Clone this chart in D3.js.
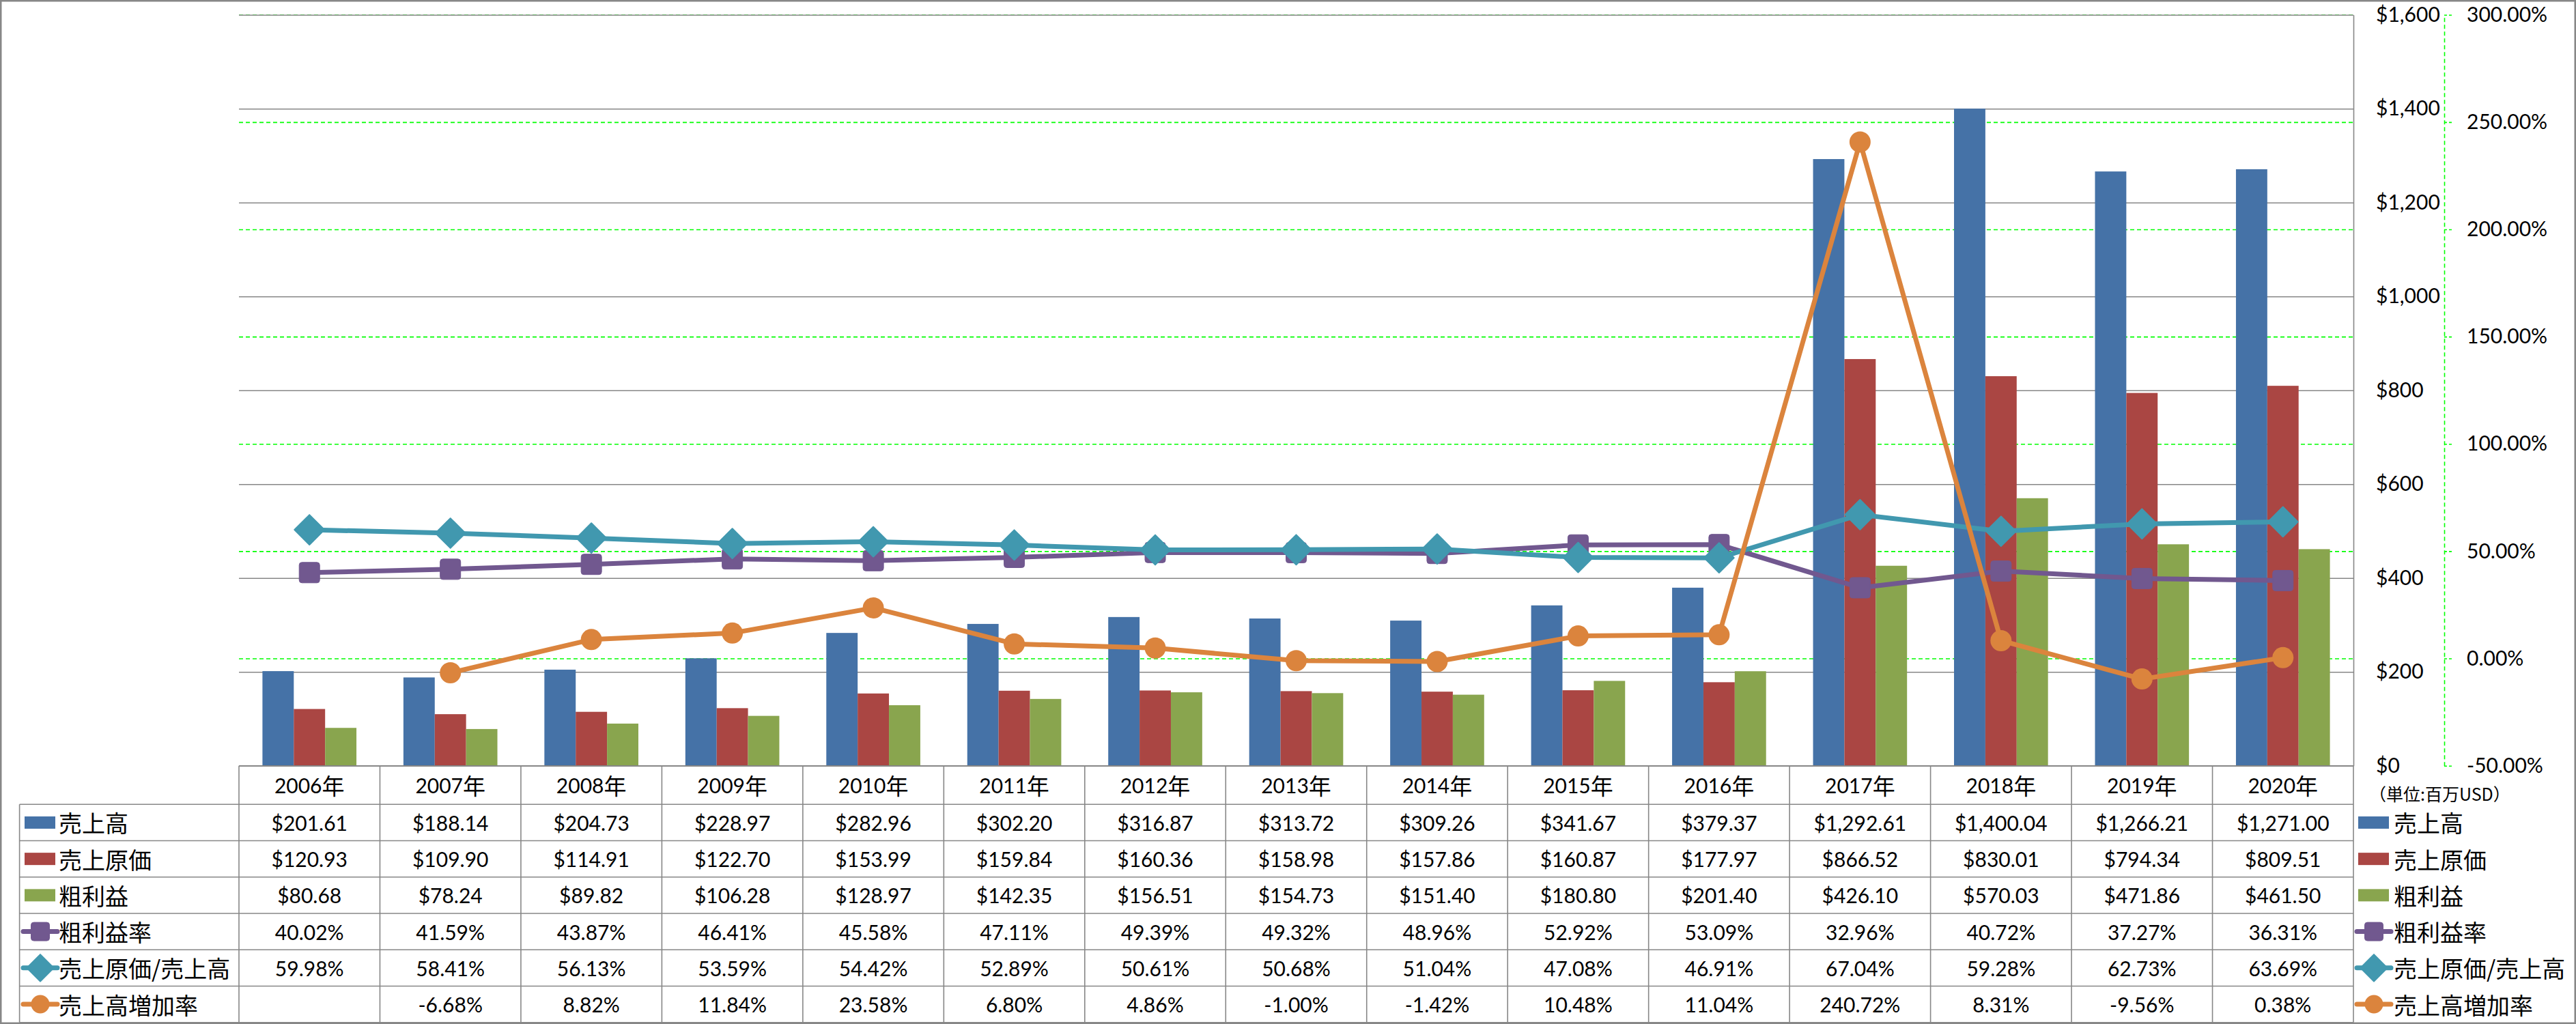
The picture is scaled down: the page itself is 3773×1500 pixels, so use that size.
<!DOCTYPE html>
<html>
<head>
<meta charset="utf-8">
<script src="https://cdn.jsdelivr.net/npm/d3@7"></script>
<style>
  html, body { margin: 0; padding: 0; background: #fff; }
  svg { display: block; }
  text { font-family: Lato, "Noto Sans CJK JP", sans-serif; fill: #000; }
  .jp { font-family: "Noto Sans CJK JP", sans-serif; }
</style>
</head>
<body>
<script>
// ---------------- DATA ----------------
const years = ["2006年","2007年","2008年","2009年","2010年","2011年","2012年","2013年","2014年","2015年","2016年","2017年","2018年","2019年","2020年"];
const sales = [201.61,188.14,204.73,228.97,282.96,302.20,316.87,313.72,309.26,341.67,379.37,1292.61,1400.04,1266.21,1271.00];
const costOfSales = [120.93,109.90,114.91,122.70,153.99,159.84,160.36,158.98,157.86,160.87,177.97,866.52,830.01,794.34,809.51];
const grossProfit = [80.68,78.24,89.82,106.28,128.97,142.35,156.51,154.73,151.40,180.80,201.40,426.10,570.03,471.86,461.50];
const grossMargin = [40.02,41.59,43.87,46.41,45.58,47.11,49.39,49.32,48.96,52.92,53.09,32.96,40.72,37.27,36.31];
const costRatio = [59.98,58.41,56.13,53.59,54.42,52.89,50.61,50.68,51.04,47.08,46.91,67.04,59.28,62.73,63.69];
const salesGrowth = [null,-6.68,8.82,11.84,23.58,6.80,4.86,-1.00,-1.42,10.48,11.04,240.72,8.31,-9.56,0.38];
const seriesNames = ["売上高","売上原価","粗利益","粗利益率","売上原価/売上高","売上高増加率"];
const leftTicks = [0,200,400,600,800,1000,1200,1400,1600];
const rightTicks = [-50,0,50,100,150,200,250,300];
const unitLabel = "（単位:百万USD）";

// ---------------- LAYOUT / STYLE ----------------
const W = 3773, H = 1500;
const plotL = 350, plotR = 3447, plotT = 21.7, plotB = 1121.7;
const headerH = 56.6, rowH = 53.23;
const tableL = 28.6;
const colors = ["#4572A7","#AA4643","#89A54E","#71588F","#4198AF","#DB843D"];
const gridGray = "#878787";
const green = "#00FF00";

const loc = d3.formatLocale({decimal: ".", thousands: ",", grouping: [3], currency: ["$", ""], minus: "-"});
const fmtMoney = loc.format("$,.2f");
const fmtPct = v => v == null ? "" : loc.format(".2f")(v) + "%";
const fmtAxisL = loc.format("$,.0f");
const fmtAxisR = v => loc.format(".2f")(v) + "%";

const svg = d3.select("body").append("svg").attr("width", W).attr("height", H);

const x = d3.scaleBand().domain(years).range([plotL, plotR]).paddingInner(0).paddingOuter(0);
const bw = x.bandwidth();
const barSeries = [sales, costOfSales, grossProfit];
const xBar = d3.scaleBand().domain([0,1,2]).range([bw/6, bw*5/6]);
const yL = d3.scaleLinear().domain([0,1600]).range([plotB, plotT]);
const yR = d3.scaleLinear().domain([-50,300]).range([plotB, plotT]);

// gridlines (green dashed for % axis, gray for $ axis)
const gG = svg.append("g").attr("transform", `translate(${plotL},0)`)
  .call(d3.axisLeft(yR).tickValues(rightTicks).tickSize(-(plotR - plotL)).tickFormat(""));
gG.select(".domain").remove();
gG.selectAll("line").attr("stroke", green).attr("stroke-width", 1.6).attr("stroke-dasharray", "6,4");

const gL = svg.append("g").attr("transform", `translate(${plotL},0)`)
  .call(d3.axisLeft(yL).tickValues(leftTicks).tickSize(-(plotR - plotL)).tickFormat(""));
gL.select(".domain").remove();
gL.selectAll("line").attr("stroke", gridGray).attr("stroke-width", 1.6);

// bars
barSeries.forEach((vals, si) => {
  svg.append("g").selectAll("rect").data(vals).join("rect")
    .attr("x", (d, i) => x(years[i]) + xBar(si))
    .attr("width", xBar.bandwidth())
    .attr("y", d => yL(d))
    .attr("height", d => yL(0) - yL(d))
    .attr("fill", colors[si]);
});

// axes
const axL = svg.append("g").attr("transform", `translate(${plotR},0)`)
  .call(d3.axisRight(yL).tickValues(leftTicks).tickSizeInner(0).tickSizeOuter(0).tickPadding(33).tickFormat(fmtAxisL));
axL.select(".domain").attr("stroke", gridGray).attr("stroke-width", 1.6);
axL.selectAll("text").attr("font-size", 30).attr("font-family", "Lato, sans-serif").attr("fill", "#000");

const axR = svg.append("g").attr("transform", `translate(3580,0)`)
  .call(d3.axisRight(yR).tickValues(rightTicks).tickSizeInner(12).tickSizeOuter(0).tickPadding(21).tickFormat(fmtAxisR));
axR.select(".domain").attr("stroke", green).attr("stroke-width", 1.6).attr("stroke-dasharray", "6,4");
axR.selectAll("line").attr("stroke", green).attr("stroke-width", 1.6).attr("stroke-dasharray", "4,3");
axR.selectAll("text").attr("font-size", 30).attr("font-family", "Lato, sans-serif")
  .attr("fill", d => d < 0 ? "#FF0000" : "#000");

// line series
const lineSeries = [
  {vals: grossMargin, color: colors[3], marker: "square"},
  {vals: costRatio, color: colors[4], marker: "diamond"},
  {vals: salesGrowth, color: colors[5], marker: "circle"}
];
function drawMarker(g, type, cx, cy, color, s) {
  if (type === "square") {
    g.append("rect").attr("x", cx - s/2).attr("y", cy - s/2).attr("width", s).attr("height", s)
      .attr("rx", 4).attr("fill", color).attr("stroke", color).attr("stroke-width", 1);
  } else if (type === "diamond") {
    const r = s * 0.73;
    g.append("path").attr("d", `M${cx},${cy - r}L${cx + r},${cy}L${cx},${cy + r}L${cx - r},${cy}Z`)
      .attr("fill", color).attr("stroke", color).attr("stroke-width", 2).attr("stroke-linejoin", "round");
  } else {
    g.append("circle").attr("cx", cx).attr("cy", cy).attr("r", s/2).attr("fill", color);
  }
}
lineSeries.forEach(ls => {
  const pts = ls.vals.map((v, i) => ({v, i})).filter(p => p.v != null);
  const line = d3.line().x(p => x(years[p.i]) + bw/2).y(p => yR(p.v));
  const g = svg.append("g");
  g.append("path").attr("d", line(pts)).attr("fill", "none").attr("stroke", ls.color)
    .attr("stroke-width", 7).attr("stroke-linejoin", "round").attr("stroke-linecap", "round");
  pts.forEach(p => drawMarker(g, ls.marker, x(years[p.i]) + bw/2, yR(p.v), ls.color, ls.marker === "circle" ? 31 : 30));
});

// data table
const tableBottom = plotB + headerH + rowH * 6;
const tg = svg.append("g");
tg.selectAll("text.hdr").data(years).join("text").attr("class", "hdr")
  .attr("x", d => x(d) + bw/2).attr("y", plotB + headerH/2)
  .attr("text-anchor", "middle").attr("dominant-baseline", "central").attr("font-size", 30)
  .each(function(d) {
    const t = d3.select(this);
    t.append("tspan").text(d.replace("年", ""));
    t.append("tspan").attr("class", "jp").attr("font-size", 33).text("年");
  });

const rows = [
  {name: seriesNames[0], vals: sales, fmt: fmtMoney, type: "bar", color: colors[0]},
  {name: seriesNames[1], vals: costOfSales, fmt: fmtMoney, type: "bar", color: colors[1]},
  {name: seriesNames[2], vals: grossProfit, fmt: fmtMoney, type: "bar", color: colors[2]},
  {name: seriesNames[3], vals: grossMargin, fmt: fmtPct, type: "square", color: colors[3]},
  {name: seriesNames[4], vals: costRatio, fmt: fmtPct, type: "diamond", color: colors[4]},
  {name: seriesNames[5], vals: salesGrowth, fmt: fmtPct, type: "circle", color: colors[5]}
];
function legendKey(g, type, color, x0, cy) {
  if (type === "bar") {
    g.append("rect").attr("x", x0 + 2).attr("y", cy - 9).attr("width", 45).attr("height", 18).attr("fill", color);
  } else {
    g.append("line").attr("x1", x0).attr("x2", x0 + 50).attr("y1", cy).attr("y2", cy)
      .attr("stroke", color).attr("stroke-width", 7).attr("stroke-linecap", "round");
    drawMarker(g, type, x0 + 25, cy, color, 27);
  }
}
rows.forEach((r, ri) => {
  const cy = plotB + headerH + rowH * ri + rowH/2;
  legendKey(tg, r.type, r.color, 34, cy);
  tg.append("text").attr("class", "jp").attr("x", 86).attr("y", cy).attr("dominant-baseline", "central")
    .attr("font-size", 34).text(r.name);
  tg.append("g").selectAll("text").data(r.vals).join("text")
    .attr("x", (d, i) => x(years[i]) + bw/2).attr("y", cy)
    .attr("text-anchor", "middle").attr("dominant-baseline", "central").attr("font-size", 30)
    .text(d => d == null ? "" : r.fmt(d));
  legendKey(tg, r.type, r.color, 3452, cy);
  tg.append("text").attr("class", "jp").attr("x", 3506).attr("y", cy).attr("dominant-baseline", "central")
    .attr("font-size", 34).text(r.name);
});
tg.append("text").attr("class", "jp").attr("x", 3470).attr("y", 1162).attr("dominant-baseline", "central")
  .attr("font-size", 25).text(unitLabel);

// table grid
const lg = svg.append("g").attr("stroke", gridGray).attr("stroke-width", 1.6);
for (let i = 0; i <= 6; i++) {
  const yy = plotB + headerH + rowH * i;
  lg.append("line").attr("x1", tableL).attr("x2", plotR).attr("y1", yy).attr("y2", yy);
}
lg.append("line").attr("x1", plotL).attr("x2", plotR).attr("y1", plotB).attr("y2", plotB);
lg.append("line").attr("x1", tableL).attr("x2", tableL).attr("y1", plotB + headerH).attr("y2", tableBottom);
years.forEach(y => {
  lg.append("line").attr("x1", x(y)).attr("x2", x(y)).attr("y1", plotB).attr("y2", tableBottom);
});
lg.append("line").attr("x1", plotR).attr("x2", plotR).attr("y1", plotB).attr("y2", tableBottom);

// outer border
svg.append("rect").attr("x", 1.25).attr("y", 1.25).attr("width", W - 2.5).attr("height", H - 2.5)
  .attr("fill", "none").attr("stroke", gridGray).attr("stroke-width", 2.5);
</script>
</body>
</html>
